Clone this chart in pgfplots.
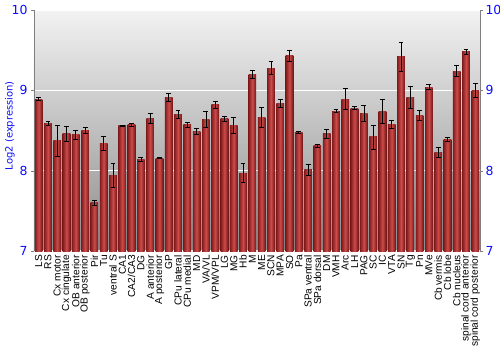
\documentclass[border=0pt]{standalone}
\usepackage{fontspec}
\setmainfont{Liberation Sans}
\newfontfamily\dejavu{DejaVu Sans}
\usepackage{pgfplots}
\usepackage{pgfplotstable}
\pgfplotsset{compat=1.18}
\definecolor{tickblue}{rgb}{0.05,0.05,1}
\definecolor{bgtop}{RGB}{242,242,242}
\definecolor{bgbot}{RGB}{140,140,140}
\definecolor{bardark}{RGB}{130,28,28}
\definecolor{barmid}{RGB}{205,75,75}
\definecolor{barright}{RGB}{112,20,20}
\pgfplotstableread{
x y e
0 8.89 0.02
1 8.59 0.02
2 8.37 0.19
3 8.46 0.09
4 8.45 0.055
5 8.50 0.035
6 7.60 0.03
7 8.34 0.09
8 7.94 0.145
9 8.56 0.01
10 8.575 0.02
11 8.14 0.02
12 8.65 0.065
13 8.155 0.005
14 8.91 0.05
15 8.70 0.05
16 8.575 0.03
17 8.49 0.04
18 8.64 0.10
19 8.82 0.04
20 8.65 0.03
21 8.56 0.10
22 7.97 0.12
23 9.20 0.045
24 8.66 0.125
25 9.275 0.08
26 8.84 0.05
27 9.43 0.07
28 8.475 0.01
29 8.01 0.065
30 8.31 0.015
31 8.46 0.055
32 8.74 0.02
33 8.89 0.13
34 8.78 0.02
35 8.71 0.10
36 8.42 0.15
37 8.74 0.15
38 8.58 0.05
39 9.42 0.18
40 8.91 0.14
41 8.69 0.06
42 9.04 0.03
43 8.23 0.06
44 8.39 0.025
45 9.24 0.07
46 9.48 0.035
47 9.00 0.085
}\datatable
\begin{document}
\begin{tikzpicture}
\useasboundingbox (-34bp,-99bp) rectangle (466bp,251bp);
\begin{axis}[
  scale only axis, width=446bp, height=241bp,
  xmin=-0.5, xmax=47.5, ymin=7, ymax=10,
  axis background/.style={shade, top color=bgtop, bottom color=bgbot},
  axis y line*=left, axis x line*=bottom,
  x axis line style={draw=none},
  y axis line style={draw=gray, line width=0.8bp, -},
  ytick={7,8,9,10}, yticklabel style={font=\dejavu\fontsize{12.5}{14}\selectfont, text=tickblue},
  /pgf/number format/assume math mode=true,
  ymajorgrids, grid style={white, line width=1.3bp},
  major tick length=3bp, tick align=outside,
  ytick style={draw=gray},
  xtick={0,...,47}, xtick style={draw=none},
  xticklabels={LS,RS,Cx motor,Cx cingulate,OB anterior,OB posterior,Pir,Tu,ventral S,CA1,CA2/CA3,DG,A anterior,A posterior,GP,CPu lateral,CPu medial,MD,VA/VL,VPM/VPL,LG,MG,Hb,M,ME,SCN,MPA,SO,Pa,SPa ventral,SPa dorsal,DM,VMH,Arc,LH,PAG,SC,IC,VTA,SN,Tg,Pn,MVe,Cb vermis,Cb lobe,Cb nucleus,spinal cord anterior,spinal cord posterior},
  xticklabel style={rotate=90, anchor=east, font=\fontsize{10.2}{10}\selectfont, inner sep=1bp},
  ylabel={Log2 (expression)},
  every axis y label/.style={at={(axis description cs:-0.054,0.52)}, rotate=90, anchor=center, font=\dejavu\fontsize{10}{12}\selectfont, text=tickblue},
]
\pgfplotsinvokeforeach{0,...,47}{
\addplot[ybar, bar width=7.7bp, bar shift=0pt, draw=none, left color=bardark, right color=barright, middle color=barmid,
  x filter/.expression={abs(x-#1)<0.1 ? x : nan},
  error bars/.cd, y dir=both, y explicit,
  error bar style={black, line width=0.7bp},
  error mark options={rotate=90, mark size=2.4bp, black, line width=0.7bp}]
 table[x=x, y=y, y error=e] {\datatable};
}
\end{axis}
\begin{axis}[
  scale only axis, width=446bp, height=241bp,
  xmin=-0.5, xmax=47.5, ymin=7, ymax=10,
  axis x line=none, axis y line*=right,
  y axis line style={draw=gray, line width=0.8bp, -},
  ytick={7,8,9,10}, yticklabel style={font=\dejavu\fontsize{12.5}{14}\selectfont, text=tickblue, xshift=-1bp},
  /pgf/number format/assume math mode=true,
  major tick length=3bp, tick align=outside, ytick style={draw=gray},
]
\addplot[draw=none] coordinates {(0,7)};
\end{axis}
\end{tikzpicture}
\end{document}
